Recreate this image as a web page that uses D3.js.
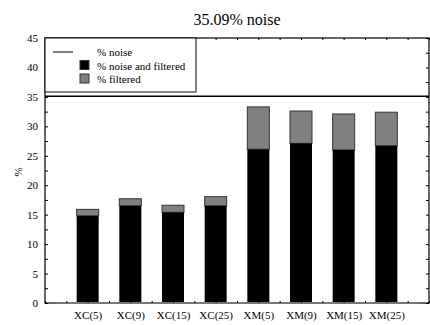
<!DOCTYPE html>
<html>
<head>
<meta charset="utf-8">
<script src="https://cdn.jsdelivr.net/npm/d3@7"></script>
<style>
  body { margin: 0; background: #fff; }
</style>
</head>
<body>
<svg id="chart" width="430" height="325"></svg>
<script>
const categories = ["XC(5)", "XC(9)", "XC(15)", "XC(25)", "XM(5)", "XM(9)", "XM(15)", "XM(25)"];
const noiseAndFiltered = [14.8, 16.5, 15.4, 16.5, 26.1, 27.1, 26.0, 26.7];
const totalFiltered = [15.9, 17.7, 16.6, 18.05, 33.3, 32.6, 32.1, 32.4];
const noiseLevel = 35.09;
const yTicks = [0, 5, 10, 15, 20, 25, 30, 35, 40, 45];

const serif = "'Liberation Serif', 'Times New Roman', serif";
const svg = d3.select("#chart");
const margin = { left: 45, right: 1, top: 38, bottom: 22 };
const W = 430, H = 325;

const x = d3.scaleLinear().domain([0, categories.length + 1]).range([margin.left, W - margin.right]);
const y = d3.scaleLinear().domain([0, 45]).range([H - margin.bottom, margin.top]);

const barW = 22;

// title
svg.append("text")
  .attr("x", (margin.left + W - margin.right) / 2)
  .attr("y", 25)
  .attr("text-anchor", "middle")
  .style("font-family", serif)
  .style("font-size", "16px")
  .text(noiseLevel.toFixed(2) + "% noise");

// bars
const g = svg.append("g");
categories.forEach((c, i) => {
  const cx = x(i + 1);
  g.append("rect")
    .attr("x", cx - barW / 2).attr("width", barW)
    .attr("y", y(totalFiltered[i])).attr("height", y(noiseAndFiltered[i]) - y(totalFiltered[i]))
    .attr("fill", "#808080").attr("stroke", "#333").attr("stroke-width", 1);
  g.append("rect")
    .attr("x", cx - barW / 2).attr("width", barW)
    .attr("y", y(noiseAndFiltered[i])).attr("height", y(0) - y(noiseAndFiltered[i]))
    .attr("fill", "#000");
});

// noise line
svg.append("line")
  .attr("x1", margin.left).attr("x2", W - margin.right)
  .attr("y1", y(noiseLevel)).attr("y2", y(noiseLevel))
  .attr("stroke", "#000").attr("stroke-width", 1.5);

// frame
svg.append("rect")
  .attr("x", margin.left).attr("y", margin.top)
  .attr("width", W - margin.right - margin.left).attr("height", y(0) - margin.top)
  .attr("fill", "none").attr("stroke", "#000").attr("stroke-width", 1.2);

svg.append("line")
  .attr("x1", margin.left + 10).attr("x2", W - margin.right - 10)
  .attr("y1", y(0)).attr("y2", y(0))
  .attr("stroke", "#777").attr("stroke-width", 2);

// y axes, ticks inward
const yMinor = d3.range(0, 45.01, 2.5);
svg.append("g")
  .attr("transform", `translate(${margin.left},0)`)
  .call(d3.axisRight(y).tickValues(yMinor).tickSize(3).tickFormat(""))
  .call(a => a.select(".domain").remove());
svg.append("g")
  .attr("transform", `translate(${W - margin.right},0)`)
  .call(d3.axisLeft(y).tickValues(yMinor).tickSize(3).tickFormat(""))
  .call(a => a.select(".domain").remove());
svg.append("g")
  .attr("transform", `translate(${margin.left},0)`)
  .call(d3.axisLeft(y).tickValues(yTicks).tickSize(0).tickPadding(7))
  .call(a => a.select(".domain").remove())
  .selectAll("text").style("font-size", "11px").style("font-family", serif);

// x axes
const xMinor = d3.range(0, categories.length + 1.01, 0.5);
svg.append("g")
  .attr("transform", `translate(0,${margin.top})`)
  .call(d3.axisBottom(x).tickValues(xMinor).tickSize(2).tickFormat(""))
  .call(a => a.select(".domain").remove());
svg.append("g")
  .attr("transform", `translate(0,${y(0)})`)
  .call(d3.axisTop(x).tickValues(xMinor).tickSize(2).tickFormat(""))
  .call(a => a.select(".domain").remove());
svg.append("g")
  .attr("transform", `translate(0,${y(0)})`)
  .call(d3.axisBottom(x).tickValues(d3.range(1, categories.length + 1)).tickSize(0).tickPadding(8)
    .tickFormat(d => categories[d - 1]))
  .call(a => a.select(".domain").remove())
  .selectAll("text").style("font-size", "11px").style("font-family", serif);

// y label
svg.append("text")
  .attr("transform", `translate(22,172) rotate(-90)`)
  .attr("text-anchor", "middle")
  .style("font-family", serif)
  .style("font-size", "11px")
  .text("%");

// legend
const lg = svg.append("g");
lg.append("rect")
  .attr("x", margin.left).attr("y", margin.top)
  .attr("width", 151).attr("height", 54)
  .attr("fill", "#fff").attr("stroke", "#000").attr("stroke-width", 1);
lg.append("line").attr("x1", margin.left + 1).attr("x2", margin.left + 151)
  .attr("y1", margin.top + 54).attr("y2", margin.top + 54)
  .attr("stroke", "#888").attr("stroke-width", 1.5);
const legendItems = [
  { label: "% noise", type: "line" },
  { label: "% noise and filtered", type: "box", fill: "#000" },
  { label: "% filtered", type: "box", fill: "#808080" }
];
legendItems.forEach((d, i) => {
  const yy = 52 + i * 13.5;
  if (d.type === "line") {
    lg.append("line").attr("x1", 53).attr("x2", 73).attr("y1", yy).attr("y2", yy)
      .attr("stroke", "#000").attr("stroke-width", 1);
  } else {
    lg.append("rect").attr("x", 80).attr("y", yy - 5).attr("width", 9).attr("height", 9)
      .attr("fill", d.fill).attr("stroke", "#333").attr("stroke-width", 1);
  }
  lg.append("text").attr("x", 97).attr("y", yy + 4)
    .style("font-family", serif).style("font-size", "11px").text(d.label);
});
</script>
</body>
</html>
